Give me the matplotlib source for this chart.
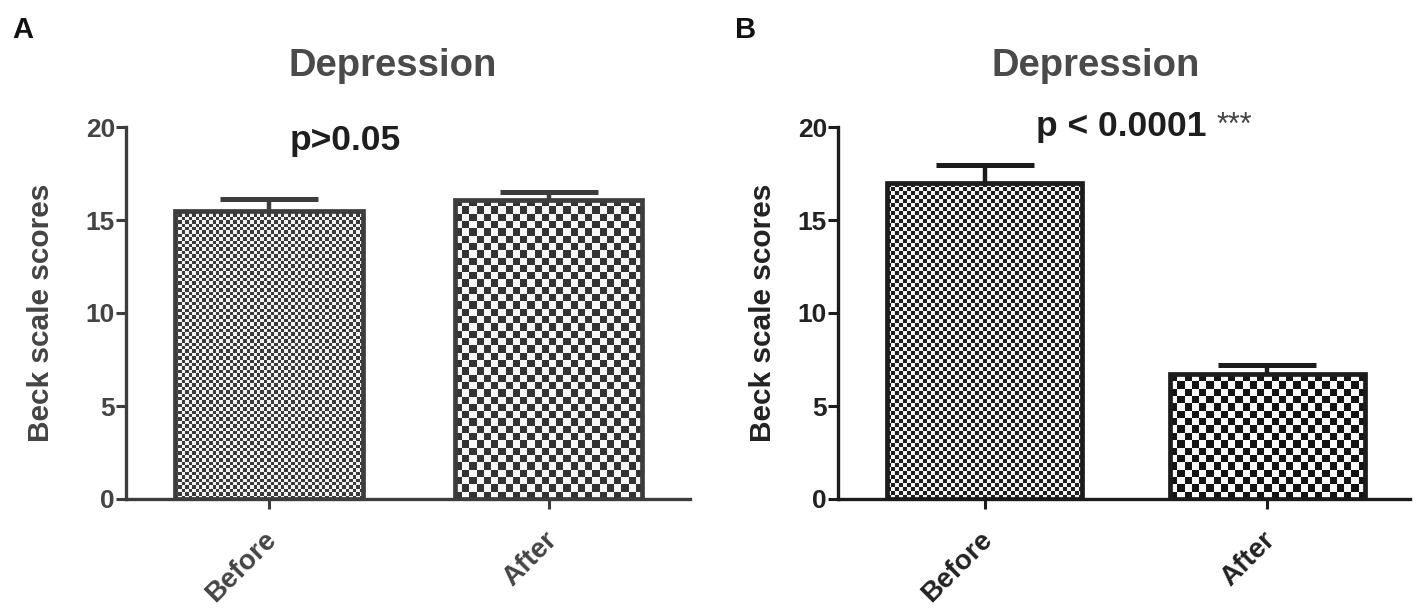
import numpy as np
import matplotlib
matplotlib.use("Agg")
import matplotlib.pyplot as plt
from matplotlib.colors import ListedColormap
from matplotlib.transforms import ScaledTranslation

plt.rcParams['font.family'] = ['Liberation Sans', 'DejaVu Sans']
plt.rcParams['font.weight'] = 'bold'
plt.rcParams['axes.labelweight'] = 'bold'

groups = ['Before', 'After']
scores_a = [15.5, 16.1]
err_a = [0.65, 0.4]
scores_b = [16.97, 6.7]
err_b = [1.0, 0.5]
yticks = [0, 5, 10, 15, 20]

W, H = 1421, 608
fig = plt.figure(figsize=(W / 100, H / 100), dpi=100)


def px_axes(x0, x1, ytop, ybot):
    return fig.add_axes([x0 / W, 1 - ybot / H, (x1 - x0) / W, (ybot - ytop) / H])


def checker_bar(ax, x, h, width, cell, dark, light, edge):
    bar = ax.bar(x, h, width=width, facecolor='none', edgecolor=edge,
                 linewidth=3.4, zorder=4)[0]
    p0 = ax.transData.transform((x - width / 2, 0))
    p1 = ax.transData.transform((x + width / 2, h))
    nx = max(1, int(round((p1[0] - p0[0]) / cell)))
    ny = max(1, int(round((p1[1] - p0[1]) / cell)))
    ii, jj = np.indices((ny, nx))
    img = (ii + jj) % 2
    im = ax.imshow(img, cmap=ListedColormap([dark, light]), extent=(x - width / 2, x + width / 2, 0, h),
                   aspect='auto', interpolation='nearest', origin='upper', zorder=3)
    im.set_clip_path(bar)
    return bar


def panel(ax, vals, errs, width, cells, col, darks, lights, xlim, lab_x, txtcol):
    ax.set_xlim(*xlim)
    ax.set_ylim(0, 20)
    x = np.arange(len(vals))
    ax.errorbar(x, vals, yerr=errs, fmt='none', ecolor=col, elinewidth=3.2,
                capsize=35, capthick=3.6, zorder=2)
    for i in range(len(vals)):
        checker_bar(ax, x[i], vals[i], width, cells[i], darks[i], lights[i], col)
    ax.set_xlim(*xlim)
    ax.set_ylim(0, 20)
    for s in ['top', 'right']:
        ax.spines[s].set_visible(False)
    for s in ['left', 'bottom']:
        ax.spines[s].set_linewidth(2.4)
        ax.spines[s].set_color(col)
    ax.set_yticks(yticks)
    ax.set_xticks(x)
    ax.set_xticklabels(groups, rotation=45, ha='right', rotation_mode='anchor',
                       fontsize=20, color=txtcol)
    ax.tick_params(axis='both', length=7, width=2.2, color=col, labelsize=19,
                   labelcolor=txtcol, pad=1)
    ax.tick_params(axis='x', labelsize=20, pad=13)
    off = ScaledTranslation(-5 / 100, 0, fig.dpi_scale_trans)
    for lab in ax.get_xticklabels():
        lab.set_transform(lab.get_transform() + off)
    ax.set_ylabel('Beck scale scores', fontsize=21.5, color=txtcol)
    ax.yaxis.set_label_coords(lab_x, 0.5)


ax1 = px_axes(126, 690, 127, 499)
panel(ax1, scores_a, err_a, 0.67, [3.4, 7.3], '#3d3d3d', ['#3a3a3a', '#333333'],
      ['#f2f2f2', '#f7f7f7'], (-0.51, 1.505), -0.126, '#444444')

ax2 = px_axes(838, 1410, 127, 499)
panel(ax2, scores_b, err_b, 0.69, [4.0, 7.3], '#1c1c1c', ['#1e1e1e', '#141414'],
      ['#f2f2f2', '#fafafa'], (-0.518, 1.504), -0.107, '#222222')

fig.text(12 / W, 1 - 38 / H, 'A', fontsize=21, color='#111111', va='baseline')
fig.text(735 / W, 1 - 38 / H, 'B', fontsize=21, color='#111111', va='baseline')
fig.text(393 / W, 1 - 76 / H, 'Depression', fontsize=27.5, color='#4a4a4a', ha='center', va='baseline')
fig.text(1096 / W, 1 - 76 / H, 'Depression', fontsize=27.5, color='#4a4a4a', ha='center', va='baseline')
fig.text(345 / W, 1 - 150 / H, 'p>0.05', fontsize=25.5, color='#1e1e1e', ha='center', va='baseline')
fig.text(1207 / W, 1 - 136 / H, 'p < 0.0001', fontsize=25.5, color='#1e1e1e', ha='right', va='baseline')
fig.text(1217 / W, 1 - 134 / H, '***', fontsize=22, color='#444444', ha='left', va='baseline',
         fontweight='normal')

fig.savefig('out.png', dpi=100)
